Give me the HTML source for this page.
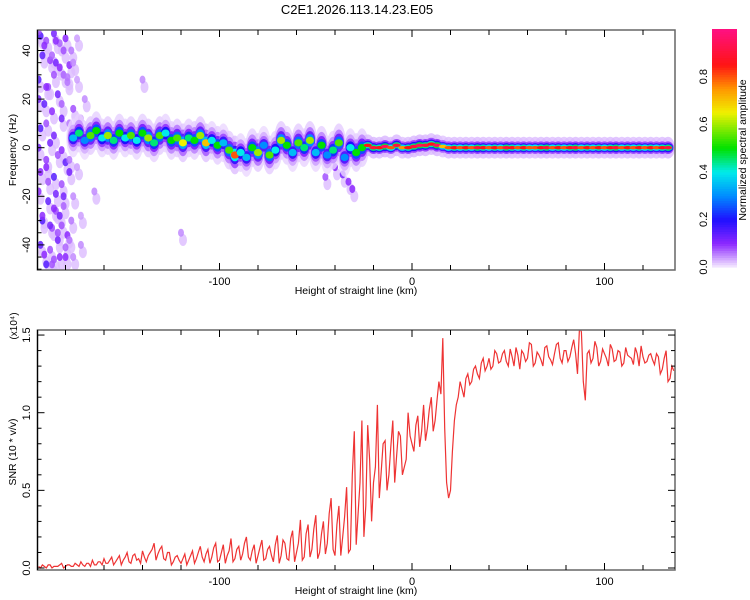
<!DOCTYPE html>
<html><head><meta charset="utf-8"><style>
html,body{margin:0;padding:0;background:#fff;}
svg{display:block;font-family:"Liberation Sans",sans-serif;}
</style></head><body>
<svg id="c" width="750" height="600">
<text x="357" y="14" font-size="13" text-anchor="middle">C2E1.2026.113.14.23.E05</text>
<g id="top"></g>
<g id="bot"></g>
<g id="cbar"></g>
</svg>
<script>
// ---- data ----
const bandH = [];
for (let h=-176; h<=133; h+=3) bandH.push(h);
const bandF = [4,6,3,5,7,4,5,3,6,4, 5,3,6,4,2,5,6,3,4,2, 4,3,5,2,3,1,2,-1,-3,-2, -4,0,-2,1,-3,-1,3,1,-2,2,
 0,3,-2,1,-3,-1,2,-4,0,-2, 0,1,0,0,0.5,0,1,0,0,0.5, 1,1,1.5,1,0.5,0,0,0,0,0, 0,0,0,0,0,0,0,0,0,0,
 0,0,0,0,0,0,0,0,0,0, 0,0,0,0,0,0,0,0,0,0, 0,0,0,0];
const bandA = [0.35,0.45,0.3,0.55,0.5,0.4,0.6,0.45,0.5,0.4, 0.55,0.4,0.5,0.6,0.45,0.55,0.4,0.5,0.55,0.65,
 0.45,0.5,0.6,0.7,0.4,0.5,0.35,0.55,0.8,0.4, 0.35,0.5,0.6,0.3,0.55,0.4,0.6,0.5,0.35,0.55,
 0.45,0.6,0.35,0.5,0.3,0.45,0.55,0.3,0.4,0.5, 0.5,0.85,0.9,0.85,0.95,0.8,0.9,0.75,0.85,0.9,
 0.95,0.9,0.85,0.95,0.7,0.8,0.85,0.8,0.85,0.8, 0.9,0.85,0.8,0.85,0.8,0.9,0.85,0.8,0.85,0.8,
 0.8,0.85,0.9,0.8,0.85,0.8,0.85,0.9,0.8,0.85, 0.8,0.85,0.8,0.85,0.9,0.8,0.85,0.8,0.85,0.8, 0.85,0.8,0.85,0.9];
const noiseH = [-193,-190,-186,-183,-180,-177,-192,-188,-185,-181,-178,-194,-189,-184,-179,-191,-187,-182,-176,-193,
 -188,-184,-180,-190,-186,-182,-178,-194,-189,-185,-181,-192,-187,-183,-179,-193,-188,-184,-180,-190,-186,-177,-170,-165,-172,-168,-40,-36,-33,-31,-45,-120,-140,
 -191,-187,-183,-179,-194,-190,-186,-182,-178,-193,-189,-185,-181,-192,-188,-184,-180,-191,-187,-183,-194,-185,-181,-176,-176,-176,-190,-186,-182,-178,-194,-190,-186,-182,-178,-174,-174,-172,-174,-172];
const noiseF = [46,44,47,43,45,40,38,36,35,30,34,28,25,22,27,18,15,12,16,8,
 2,-3,-6,-8,-12,-15,-10,-18,-22,-26,-20,-30,-33,-28,-36,-40,-42,-38,-45,-48,-46,-30,20,-18,-40,5,-8,-11,-14,-17,-12,-35,28,
 42,38,33,29,20,10,5,-1,-5,-10,-14,-19,-24,-28,-32,-35,-41,-44,-48,-45,48,44,40,35,-20,-45,25,30,18,10,0,-5,-25,-32,-38,28,-8,-28,45,12];
const noiseA = [0.15,0.08,0.12,0.07,0.1,0.06,0.14,0.09,0.12,0.07,0.1,0.15,0.08,0.12,0.06,0.14,0.1,0.12,0.08,0.15,
 0.12,0.08,0.14,0.1,0.15,0.08,0.12,0.1,0.14,0.08,0.12,0.15,0.08,0.12,0.1,0.14,0.08,0.12,0.1,0.15,0.08,0.06,0.05,0.05,0.05,0.05,0.1,0.12,0.1,0.1,0.08,0.05,0.05,
 0.1,0.07,0.1,0.06,0.12,0.08,0.12,0.1,0.06,0.1,0.08,0.12,0.07,0.1,0.12,0.08,0.07,0.1,0.08,0.1,0.08,0.1,0.08,0.05,0.05,0.05,0.1,0.08,0.07,0.06,0.12,0.09,0.1,0.08,0.06,0.04,0.04,0.04,0.04,0.04];
// SNR: even-km samples (from -194) and odd-km samples (from -193), in x10^4
const snrX0 = -194, snrX0b = -193, snrStep = 2;
const snrVals = [0.01,0.02,0.00,0.02,0.01,0.01,0.03,0.01,0.02,0.01,
0.02,0.04,0.01,0.03,0.05,0.02,0.04,0.06,0.03,0.07,
0.04,0.08,0.05,0.10,0.03,0.09,0.06,0.11,0.04,0.10,
0.16,0.09,0.14,0.05,0.10,0.04,0.08,0.03,0.09,0.05,
0.11,0.06,0.14,0.04,0.12,0.07,0.16,0.05,0.15,0.08,
0.19,0.06,0.14,0.09,0.20,0.05,0.15,0.08,0.18,0.06,
0.14,0.04,0.21,0.08,0.16,0.05,0.24,0.10,0.31,0.07,
0.28,0.12,0.34,0.10,0.30,0.16,0.45,0.08,0.40,0.20,
0.52,0.12,0.88,0.35,0.95,0.40,0.70,0.55,1.05,0.62,
0.82,0.60,0.95,0.72,0.85,0.65,1.00,0.80,0.92,0.78,
1.05,0.90,1.10,0.95,1.20,1.48,0.55,0.50,0.95,1.10,
1.15,1.22,1.18,1.28,1.25,1.32,1.27,1.35,1.30,1.38,
1.33,1.40,1.30,1.36,1.42,1.28,1.38,1.35,1.44,1.32,
1.37,1.30,1.43,1.34,1.38,1.45,1.32,1.40,1.36,1.47,
1.25,1.52,1.08,1.40,1.35,1.42,1.33,1.38,1.30,1.41,
1.34,1.39,1.32,1.37,1.35,1.42,1.30,1.36,1.33,1.38,
1.31,1.36,1.28,1.40,1.22,1.27];
const snrValsB = [0.00,0.01,0.02,0.00,0.01,0.02,0.00,0.02,0.01,0.03,
0.01,0.02,0.03,0.01,0.02,0.04,0.02,0.03,0.05,0.02,
0.06,0.02,0.07,0.04,0.08,0.05,0.03,0.07,0.08,0.12,
0.05,0.12,0.06,0.10,0.02,0.07,0.05,0.06,0.02,0.08,
0.03,0.10,0.07,0.09,0.03,0.13,0.04,0.10,0.03,0.11,
0.04,0.12,0.05,0.16,0.07,0.11,0.03,0.13,0.05,0.12,
0.08,0.15,0.03,0.18,0.06,0.19,0.04,0.16,0.05,0.22,
0.07,0.25,0.06,0.22,0.09,0.35,0.12,0.28,0.08,0.33,
0.10,0.60,0.15,0.55,0.20,0.92,0.30,0.65,0.45,0.80,
0.50,0.78,0.55,0.88,0.60,0.70,0.85,0.75,0.98,0.88,
0.82,1.02,0.88,1.08,1.12,0.90,0.45,0.75,1.05,1.20,
1.10,1.25,1.20,1.30,1.22,1.35,1.30,1.28,1.40,1.32,
1.38,1.33,1.41,1.30,1.37,1.40,1.33,1.45,1.30,1.39,
1.34,1.42,1.36,1.31,1.44,1.35,1.40,1.33,1.42,1.38,
1.55,1.20,1.38,1.32,1.46,1.30,1.41,1.35,1.44,1.33,
1.40,1.30,1.42,1.36,1.31,1.38,1.43,1.32,1.37,1.34,
1.38,1.25,1.35,1.20,1.30];
const xTickLabels = [-100,0,100];
const fTickLabels = [40,20,0,-20,-40];
const snrTickLabels = [0.0,0.5,1.0,1.5];
const cbTickLabels = [0.0,0.2,0.4,0.6,0.8];

// ---- scales ----
const X0=37.5, X1=675;
const xs = h => 412 + h*1.925;
const fy = f => 147.7 - f*2.43;
const sy = v => 568 - v*155.3;
const NS="http://www.w3.org/2000/svg";
function mk(tag, attrs, parent){const e=document.createElementNS(NS,tag);for(const k in attrs)e.setAttribute(k,attrs[k]);parent.appendChild(e);return e;}
const stops=[[0,[246,236,255]],[0.1,[140,40,255]],[0.2,[30,16,255]],[0.3,[0,140,255]],[0.4,[0,235,235]],[0.5,[0,225,0]],[0.65,[240,240,0]],[0.75,[255,150,0]],[0.85,[255,20,20]],[1,[255,16,130]]];
function cmap(a){a=Math.max(0,Math.min(1,a));for(let i=1;i<stops.length;i++){if(a<=stops[i][0]){const [p0,c0]=stops[i-1],[p1,c1]=stops[i];const t=(a-p0)/(p1-p0);return 'rgb('+c0.map((c,j)=>Math.round(c+(c1[j]-c)*t)).join(',')+')';}}return 'rgb(255,16,130)';}

const topG=document.getElementById('top'), botG=document.getElementById('bot'), cbG=document.getElementById('cbar');
const ctp=mk('clipPath',{id:'ct'},topG);
mk('rect',{x:X0,y:30,width:X1-X0,height:240},ctp);
const marks=mk('g',{'clip-path':'url(#ct)'},topG);


// noise blobs
for(let i=0;i<noiseH.length;i++){
  mk('ellipse',{cx:xs(noiseH[i])+2,cy:fy(noiseF[i]-3),rx:4,ry:6,fill:cmap(0.025),opacity:0.8},marks);
}
for(let i=0;i<noiseH.length;i++){
  const e=mk('ellipse',{cx:xs(noiseH[i]),cy:fy(noiseF[i]),rx:3,ry:4,fill:cmap(noiseA[i]),opacity:0.85},marks);
  
  
}
// band layers: [amp multiplier, rx px, ry Hz (left), ry Hz (right), opacity]
const layers=[[0.03,6,8,4.5,0.8],[0.1,5,5.5,2.6,0.95],[0.22,4.5,3.8,1.9,1],[0.5,4,2.6,1.3,1],[1,3.5,1.5,0.7,1]];
layers.forEach(([m,rx,ryL,ryR,op])=>{
  for(let i=0;i<bandH.length;i++){
    const ry=(bandH[i]<-25?ryL:ryR)*2.43;
    const e=mk('ellipse',{cx:xs(bandH[i]),cy:fy(bandF[i]),rx:rx*1.15,ry:ry,fill:cmap(bandA[i]*m),opacity:op},marks);
    
    
  }
});
// axes helper
function frame(g,y0,y1){
  mk('rect',{x:X0,y:y0,width:X1-X0,height:y1-y0,fill:'none',stroke:'#666','stroke-width':1.5},g);
  mk('line',{x1:X0,y1:y0,x2:X0,y2:y1,stroke:'#000','stroke-width':1.2},g);
  for(let h=-180;h<=120;h+=20){
    const x=xs(h),L=(h%100===0)?7:5;
    mk('line',{x1:x,y1:y0,x2:x,y2:y0+L,stroke:'#000'},g);
    mk('line',{x1:x,y1:y1,x2:x,y2:y1-L,stroke:'#000'},g);
  }
  xTickLabels.forEach(v=>{const t=mk('text',{x:xs(v),y:y1+15,'font-size':11,'text-anchor':'middle'},g);t.textContent=v;
    
    });
  const t=mk('text',{x:356,y:y1+24,'font-size':10.5,'text-anchor':'middle'},g);t.textContent='Height of straight line (km)';
  
  
}
frame(topG,30,270);
for(let f=-50;f<=50;f+=5){const y=fy(f);if(y<30||y>270)continue;const L=(f%20===0)?7:4;mk('line',{x1:X0,y1:y,x2:X0+L,y2:y,stroke:'#000'},topG);}
fTickLabels.forEach(v=>{const t=mk('text',{x:0,y:0,'font-size':11,'text-anchor':'middle',transform:`translate(30,${fy(v)}) rotate(-90)`},topG);t.textContent=v;
  
  });
{const t=mk('text',{x:0,y:0,'font-size':10.5,'text-anchor':'middle',transform:'translate(16,150) rotate(-90)'},topG);t.textContent='Frequency (Hz)';

}

// bottom
const cbp=mk('clipPath',{id:'cb2'},botG);
mk('rect',{x:X0,y:330,width:X1-X0,height:240},cbp);
const pts=[];
snrVals.forEach((v,i)=>pts.push([snrX0+i*snrStep,v]));
snrValsB.forEach((v,i)=>pts.push([snrX0b+i*snrStep,v]));
pts.sort((a,b)=>a[0]-b[0]);
let dPath='';
pts.forEach((p,i)=>{dPath+=(i?'L':'M')+xs(p[0]).toFixed(1)+','+sy(p[1]).toFixed(1);});
const line=mk('path',{d:dPath,fill:'none',stroke:'#ee3333','stroke-width':1.2,'clip-path':'url(#cb2)'},botG);


frame(botG,330,570);
for(let k=0;k<=15;k++){const v=k/10;const y=sy(v);const L=(k%5===0)?7:4;mk('line',{x1:X0,y1:y,x2:X0+L,y2:y,stroke:'#000'},botG);mk('line',{x1:X1,y1:y,x2:X1-L,y2:y,stroke:'#000'},botG);}
snrTickLabels.forEach(v=>{const t=mk('text',{x:0,y:0,'font-size':11,'text-anchor':'middle',transform:`translate(30,${sy(v)}) rotate(-90)`},botG);t.textContent=v.toFixed(1);
  
  });
{const t=mk('text',{x:0,y:0,'font-size':10.5,'text-anchor':'middle',transform:'translate(16,452) rotate(-90)'},botG);t.textContent='SNR (10 * v/v)';


const t2=mk('text',{x:0,y:0,'font-size':10,'text-anchor':'middle',transform:'translate(17,326) rotate(-90)'},botG);t2.textContent='(x10⁴)';

}

// colorbar
const CY0=29, CY1=267;
const cbv=a=>CY1-(CY1-CY0)*a;
for(let i=0;i<100;i++){const a=i/100;mk('rect',{x:712,y:cbv(a+0.01),width:25,height:(CY1-CY0)/100+0.6,fill:cmap(a+0.005)},cbG);}
cbTickLabels.forEach(v=>{const t=mk('text',{x:0,y:0,'font-size':11,'text-anchor':'middle',transform:`translate(707,${cbv(v)}) rotate(-90)`},cbG);t.textContent=v.toFixed(1);
  
  });
{const t=mk('text',{x:0,y:0,'font-size':10.5,'text-anchor':'middle',transform:'translate(746,150) rotate(-90)'},cbG);t.textContent='Normalized spectral amplitude';

}
</script>
</body></html>
